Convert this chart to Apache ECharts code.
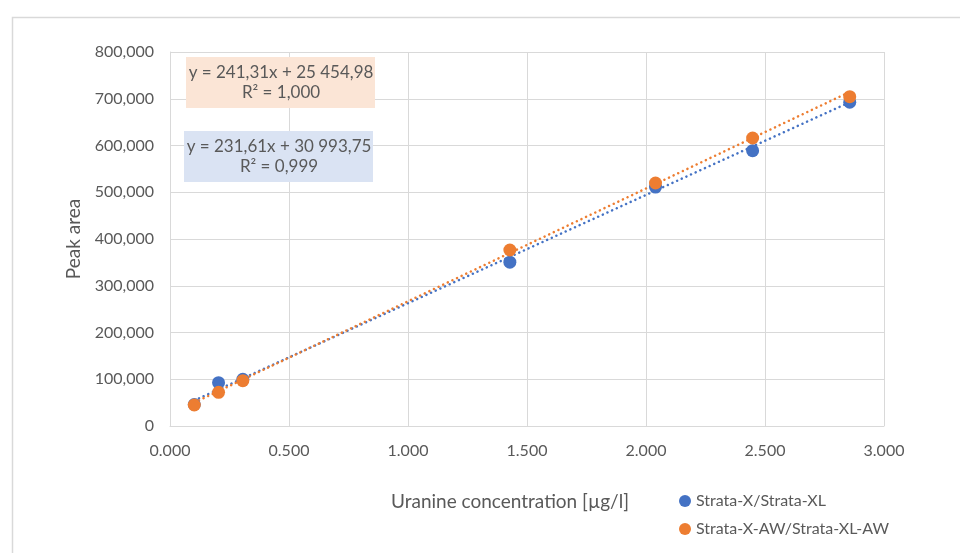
<!DOCTYPE html>
<html><head><meta charset="utf-8">
<script src="https://cdn.jsdelivr.net/npm/echarts@6/dist/echarts.min.js"></script>
<style>html,body{margin:0;padding:0;background:#fff}#c{width:960px;height:553px}</style>
</head><body><div id="c"></div>
<script>
var xValues = [0.102, 0.204, 0.306, 1.428, 2.040, 2.448, 2.856];
var seriesNames = ['Strata-X/Strata-XL', 'Strata-X-AW/Strata-XL-AW'];
var blueValues = [46000, 92600, 100000, 350500, 511000, 589000, 692500];
var orangeValues = [44900, 72000, 97000, 376500, 519800, 616000, 704400];
var blueTrendX = [0.102, 2.856];
var blueTrendY = [54600, 692500];
var orangeTrendX = [0.102, 2.856];
var orangeTrendY = [50100, 714600];
var xTickLabels = ['0.000', '0.500', '1.000', '1.500', '2.000', '2.500', '3.000'];
var yTickLabels = ['0', '100,000', '200,000', '300,000', '400,000', '500,000', '600,000', '700,000', '800,000'];
var orangeEq = ['y = 241,31x + 25 454,98', 'R² = 1,000'];
var blueEq = ['y = 231,61x + 30 993,75', 'R² = 0,999'];
var xAxisName = 'Uranine concentration [µg/l]';
var yAxisName = 'Peak area';

function pairs(xs, ys) { return xs.map(function (x, i) { return [x, ys[i]]; }); }

var FONT = 'Lato';
var TXT = '#595959';
var chart = echarts.init(document.getElementById('c'), null, { renderer: 'canvas' });
chart.setOption({
  animation: false,
  textStyle: { fontFamily: FONT },
  grid: { left: 170, right: 76, top: 52, bottom: 127, containLabel: false },
  xAxis: {
    type: 'value', min: 0, max: 3, interval: 0.5,
    name: xAxisName, nameLocation: 'middle', nameGap: 66,
    nameTextStyle: { color: TXT, fontSize: 19, fontFamily: FONT, padding: [0, 34, 0, 0] },
    axisLine: { show: true, lineStyle: { color: '#D9D9D9', width: 1 } },
    axisTick: { show: false },
    splitLine: { show: true, lineStyle: { color: '#D9D9D9', width: 1 } },
    axisLabel: { color: TXT, fontSize: 16, margin: 17,
      formatter: function (v) { return xTickLabels[Math.round(v / 0.5)]; } }
  },
  yAxis: {
    type: 'value', min: 0, max: 800000, interval: 100000,
    name: yAxisName, nameLocation: 'middle', nameGap: 83, nameRotate: 90,
    nameTextStyle: { color: TXT, fontSize: 19, fontFamily: FONT },
    axisLine: { show: true, lineStyle: { color: '#D9D9D9', width: 1 } },
    axisTick: { show: false },
    splitLine: { show: true, lineStyle: { color: '#D9D9D9', width: 1 } },
    axisLabel: { color: TXT, fontSize: 16, margin: 16,
      formatter: function (v) { return yTickLabels[Math.round(v / 100000)]; } }
  },
  legend: {
    orient: 'vertical', left: 674, top: 488, itemGap: 12,
    icon: 'circle', itemWidth: 12, itemHeight: 12,
    textStyle: { color: TXT, fontSize: 16, fontFamily: FONT },
    data: seriesNames
  },
  series: [
    { name: seriesNames[0] + ' trend', type: 'line', data: pairs(blueTrendX, blueTrendY),
      symbol: 'none', z: 2, silent: true,
      lineStyle: { color: '#4472C4', width: 2.5, type: [0.1, 5], cap: 'round' } },
    { name: seriesNames[1] + ' trend', type: 'line', data: pairs(orangeTrendX, orangeTrendY),
      symbol: 'none', z: 2, silent: true,
      lineStyle: { color: '#ED7D31', width: 2.5, type: [0.1, 5], cap: 'round' } },
    { name: seriesNames[0], type: 'scatter', data: pairs(xValues, blueValues),
      symbol: 'circle', symbolSize: 13, z: 3, itemStyle: { color: '#4472C4', opacity: 1 } },
    { name: seriesNames[1], type: 'scatter', data: pairs(xValues, orangeValues),
      symbol: 'circle', symbolSize: 13, z: 4, itemStyle: { color: '#ED7D31', opacity: 1 } }
  ],
  graphic: [
    { type: 'rect', left: 10, top: 15, shape: { width: 980, height: 600 }, silent: true, z: -10,
      style: { fill: 'none', stroke: '#D9D9D9', lineWidth: 1.5 } },
    { type: 'rect', left: 186, top: 57, shape: { width: 189, height: 51 }, z: 10,
      style: { fill: '#FBE5D6' } },
    { type: 'text', z: 11, x: 281, y: 63,
      style: { text: orangeEq.join('\n'), fill: TXT, font: '17px ' + FONT, align: 'center', lineHeight: 20 } },
    { type: 'rect', left: 184, top: 131, shape: { width: 189, height: 51 }, z: 10,
      style: { fill: '#DAE3F3' } },
    { type: 'text', z: 11, x: 279, y: 137,
      style: { text: blueEq.join('\n'), fill: TXT, font: '17px ' + FONT, align: 'center', lineHeight: 20 } }
  ]
});
</script></body></html>
